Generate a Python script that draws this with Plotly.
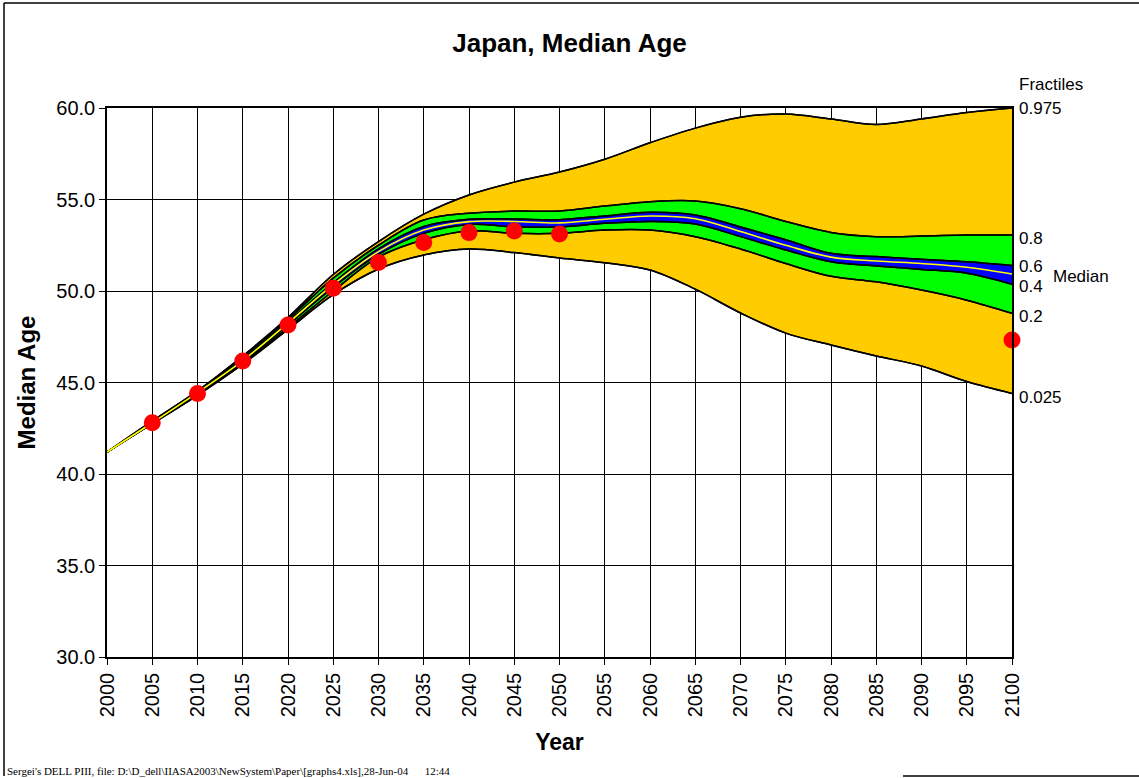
import plotly.graph_objects as go

# ---------------- data ----------------
years = list(range(2000, 2101, 5))
q025 = [41.2, 42.75, 44.3, 46.0, 47.9, 49.8, 51.2, 51.97, 52.3, 52.1, 51.8, 51.55, 51.15, 50.1, 48.8, 47.7, 47.05, 46.45, 45.9, 45.05, 44.4]
q200 = [41.2, 42.76, 44.38, 46.05, 48.0, 50.0, 51.85, 52.8, 53.28, 53.15, 53.15, 53.33, 53.33, 52.97, 52.3, 51.5, 50.8, 50.5, 50.05, 49.5, 48.78]
q400 = [41.2, 42.78, 44.42, 46.12, 48.15, 50.2, 52.0, 53.15, 53.64, 53.5, 53.5, 53.7, 53.8, 53.66, 52.97, 52.24, 51.6, 51.37, 51.18, 50.97, 50.37]
q500 = [41.2, 42.8, 44.45, 46.2, 48.25, 50.35, 52.15, 53.33, 53.79, 53.8, 53.72, 53.92, 54.1, 53.95, 53.25, 52.5, 51.85, 51.64, 51.5, 51.3, 50.93]
q600 = [41.2, 42.82, 44.48, 46.28, 48.32, 50.45, 52.3, 53.52, 53.92, 53.93, 53.9, 54.1, 54.3, 54.15, 53.5, 52.8, 52.06, 51.88, 51.73, 51.6, 51.4]
q800 = [41.2, 42.85, 44.52, 46.4, 48.45, 50.7, 52.5, 53.88, 54.25, 54.37, 54.37, 54.64, 54.88, 54.92, 54.5, 53.8, 53.2, 52.97, 53.0, 53.06, 53.06]
q975 = [41.2, 42.9, 44.55, 46.45, 48.55, 50.9, 52.7, 54.2, 55.25, 55.95, 56.5, 57.2, 58.1, 58.9, 59.5, 59.67, 59.4, 59.1, 59.4, 59.75, 60.0]

dot_years = [2005, 2010, 2015, 2020, 2025, 2030, 2035, 2040, 2045, 2050, 2100]
dot_vals = [42.8, 44.4, 46.17, 48.14, 50.15, 51.56, 52.65, 53.19, 53.28, 53.11, 47.32]

x_ticks = list(range(2000, 2101, 5))
y_ticks = [30, 35, 40, 45, 50, 55, 60]

fractile_labels = ["0.975", "0.8", "0.6", "0.4", "0.2", "0.025"]

# ---------------- styles ----------------
ORANGE = "#FFCC00"
GREEN = "#00FF00"
BLUE = "#0000FF"
YELLOW = "#FFFF00"
FONT = "Liberation Sans, Arial, sans-serif"

fig = go.Figure()
spline = dict(shape="spline", smoothing=1.0)

def band(lo, hi, color):
    fig.add_trace(go.Scatter(x=years, y=lo, mode="lines",
                             line=dict(color="black", width=1.5, **spline),
                             hoverinfo="skip", showlegend=False))
    fig.add_trace(go.Scatter(x=years, y=hi, mode="lines", fill="tonexty",
                             fillcolor=color,
                             line=dict(color="black", width=1.5, **spline),
                             hoverinfo="skip", showlegend=False))

band(q025, q975, ORANGE)
band(q200, q800, GREEN)
band(q400, q600, BLUE)

# black outlines on top
for q in [q025, q975, q200, q800, q400, q600]:
    fig.add_trace(go.Scatter(x=years, y=q, mode="lines",
                             line=dict(color="black", width=1.5, **spline),
                             hoverinfo="skip", showlegend=False))

# median
fig.add_trace(go.Scatter(x=years, y=q500, mode="lines",
                         line=dict(color=YELLOW, width=1.6, **spline),
                         showlegend=False))

# red dots
fig.add_trace(go.Scatter(x=dot_years, y=dot_vals, mode="markers",
                         marker=dict(color="#FF0000", size=17, line=dict(width=0)),
                         cliponaxis=False, showlegend=False))

# ---------------- annotations ----------------
ann = []
label_vals = [q975[-1], q800[-1], q600[-1], q400[-1], q200[-1], q025[-1]]
label_shift = [0, -3, -1, -2, -3, -4]
for lab, v, s in zip(fractile_labels, label_vals, label_shift):
    ann.append(dict(x=2100, y=v, xref="x", yref="y", text=lab, showarrow=False,
                    xanchor="left", yanchor="middle", xshift=5, yshift=s,
                    font=dict(family=FONT, size=17, color="black")))
ann.append(dict(x=2100, y=q500[-1], xref="x", yref="y", text="Median", showarrow=False,
                xanchor="left", yanchor="middle", xshift=39, yshift=-3,
                font=dict(family=FONT, size=17, color="black")))
ann.append(dict(x=2100, y=q975[-1], xref="x", yref="y", text="Fractiles", showarrow=False,
                xanchor="left", yanchor="middle", xshift=5, yshift=24,
                font=dict(family=FONT, size=17, color="black")))

W, H = 1139, 778
L, R, T, B = 107, 1012, 108, 657
def px(x):
    return (x - L) / (R - L)
def py(y):
    return (B - y) / (B - T)

ann.append(dict(x=px(5), y=py(771), xref="paper", yref="paper",
                text="Sergei's DELL PIII, file: D:\\D_dell\\IIASA2003\\NewSystem\\Paper\\[graphs4.xls],28-Jun-04\u00a0\u00a0\u00a0\u00a0\u00a0\u00a012:44",
                showarrow=False, xanchor="left", yanchor="middle",
                font=dict(family="Liberation Serif, Times New Roman, serif", size=11, color="black")))

shapes = [
    dict(type="line", xref="paper", yref="paper", x0=px(4), x1=px(1139), y0=py(3), y1=py(3),
         line=dict(color="black", width=1.5)),
    dict(type="line", xref="paper", yref="paper", x0=px(4), x1=px(4), y0=py(3), y1=py(776),
         line=dict(color="black", width=1.5)),
    dict(type="line", xref="paper", yref="paper", x0=px(903), x1=px(1139), y0=py(776), y1=py(776),
         line=dict(color="black", width=1.5)),
]

fig.update_layout(
    width=W, height=H,
    margin=dict(l=L, r=W - R, t=T, b=H - B, pad=0),
    paper_bgcolor="white", plot_bgcolor="white",
    title=dict(text="<b>Japan, Median Age</b>", x=0.5, xref="container", xanchor="center",
               y=1 - 43 / H, yanchor="middle",
               font=dict(family=FONT, size=26, color="black")),
    font=dict(family=FONT, color="black"),
    annotations=ann,
    shapes=shapes,
    showlegend=False,
)

fig.update_xaxes(range=[2000, 2100], tickmode="array", tickvals=x_ticks,
                 ticktext=[str(v) for v in x_ticks], tickangle=-90,
                 tickfont=dict(family=FONT, size=20, color="black"),
                 ticks="outside", ticklen=6, tickcolor="black",
                 showgrid=True, gridcolor="black", gridwidth=1,
                 showline=True, linecolor="black", linewidth=1.5, mirror=True,
                 zeroline=False,
                 title=dict(text="<b>Year</b>", font=dict(family=FONT, size=23, color="black"),
                            standoff=18))
fig.update_yaxes(range=[30, 60], tickmode="array", tickvals=y_ticks,
                 ticktext=[f"{v:.1f}" for v in y_ticks],
                 tickfont=dict(family=FONT, size=20, color="black"),
                 ticks="outside", ticklen=6, tickcolor="black",
                 showgrid=True, gridcolor="black", gridwidth=1,
                 showline=True, linecolor="black", linewidth=1.5, mirror=True,
                 zeroline=False,
                 title=dict(text="<b>Median Age</b>", font=dict(family=FONT, size=24, color="black"),
                            standoff=14))

fig.write_html("out.html", config={"displayModeBar": False},
               post_script="document.body.style.margin='0px';document.body.style.overflow='hidden';")
